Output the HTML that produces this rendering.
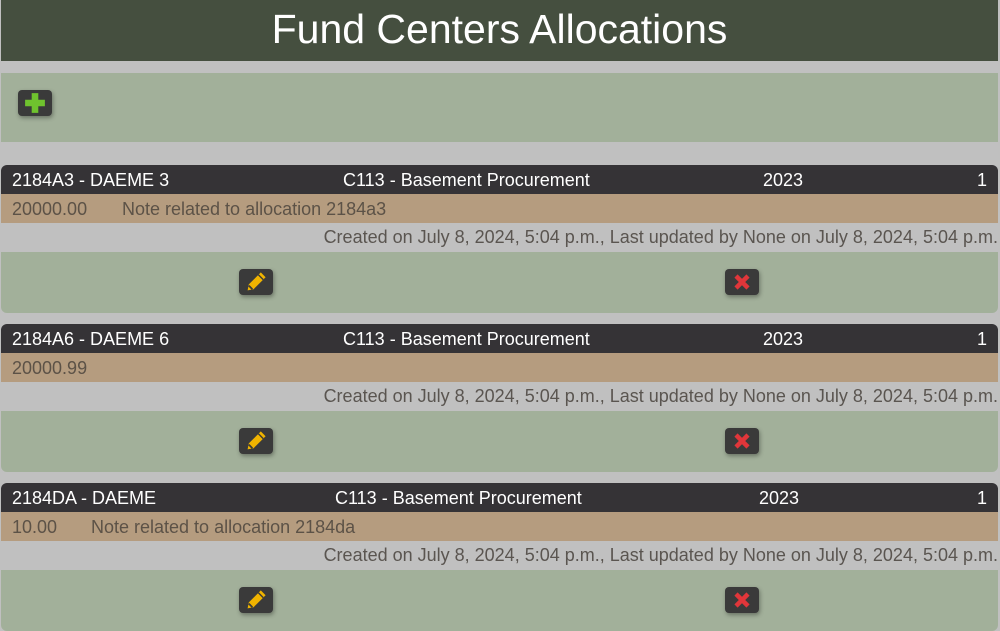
<!DOCTYPE html>
<html><head><meta charset="utf-8"><style>
body{margin:0;width:1000px;height:631px;background:#c0c0c0;font-family:"Liberation Sans",sans-serif;position:relative;overflow:hidden}
div{box-sizing:border-box}
.abs{position:absolute}
.title{left:1px;top:0;width:997px;height:61px;background:#454f3f;color:#fff;font-size:41px;text-align:center;line-height:58px}
.panel{left:1px;width:997px;background:#a2b09a}
.btn{position:absolute;width:34px;height:26px;background:#3a3a3a;border-radius:4px;box-shadow:1px 2px 4px rgba(0,0,0,.35);display:flex;align-items:center;justify-content:center}
.hdr{left:1px;width:997px;height:29px;background:#353336;border-radius:6px 6px 0 0;color:#fff;font-size:18px}
.hdr span{position:absolute;top:5px}
.note{left:1px;width:997px;height:29px;background:#b59c7f;color:#5c5247;font-size:18px}
.note span{position:absolute;top:5px}
.cr{left:0;width:998px;height:29px;color:#5a5550;font-size:18px;text-align:right;line-height:29px}
.act{left:1px;width:997px;height:61px;background:#a2b09a;border-radius:0 0 6px 6px}
</style></head><body>
<div class="abs title">Fund Centers Allocations</div>
<div class="abs panel" style="top:73px;height:69px">
 <div class="btn" style="left:17px;top:17px"><svg width="22" height="22" viewBox="0 0 20 20"><path d="M7 1h6v6h6v6h-6v6H7v-6H1V7h6z" fill="#6fc22e"/></svg></div>
</div>

<div id="cards"></div>
<script>
const cards=[
 {top:165,name:"2184A3 - DAEME 3",mid:"C113 - Basement Procurement",midX:343,year:"2023",yearX:763,num:"1",amt:"20000.00",note:"Note related to allocation 2184a3",noteX:122},
 {top:324,name:"2184A6 - DAEME 6",mid:"C113 - Basement Procurement",midX:343,year:"2023",yearX:763,num:"1",amt:"20000.99",note:"",noteX:122},
 {top:483,name:"2184DA - DAEME",mid:"C113 - Basement Procurement",midX:335,year:"2023",yearX:759,num:"1",amt:"10.00",note:"Note related to allocation 2184da",noteX:91}
];
const pencil='<svg width="24" height="24" viewBox="0 0 20 20"><path d="M14 2l4 4-10 10-5 1 1-5z" fill="#f0b400"/><path d="M4 13l3 3" stroke="#3a3a3a" stroke-width="1.5"/><path d="M12 4l4 4" stroke="#3a3a3a" stroke-width="1.2"/></svg>';
const cross='<svg width="18" height="18" viewBox="0 0 18 18"><path d="M3 3l12 12M15 3L3 15" stroke="#e0363a" stroke-width="4.5"/></svg>';
let h='';
cards.forEach((c,i)=>{const t=c.top;
h+=`<div class="abs hdr" style="top:${t}px"><span style="left:11px">${c.name}</span><span style="left:${c.midX-1}px">${c.mid}</span><span style="left:${c.yearX-1}px">${c.year}</span><span style="left:976px">${c.num}</span></div>`;
h+=`<div class="abs note" style="top:${t+29}px"><span style="left:11px">${c.amt}</span><span style="left:${c.noteX-1}px">${c.note}</span></div>`;
h+=`<div class="abs cr" style="top:${t+58}px">Created on July 8, 2024, 5:04 p.m., Last updated by None on July 8, 2024, 5:04 p.m.</div>`;
h+=`<div class="abs act" style="top:${t+87}px"><div class="btn" style="left:238px;top:17px">${pencil}</div><div class="btn" style="left:724px;top:17px">${cross}</div></div>`;
});
document.getElementById('cards').innerHTML=h;
</script>
</body></html>
